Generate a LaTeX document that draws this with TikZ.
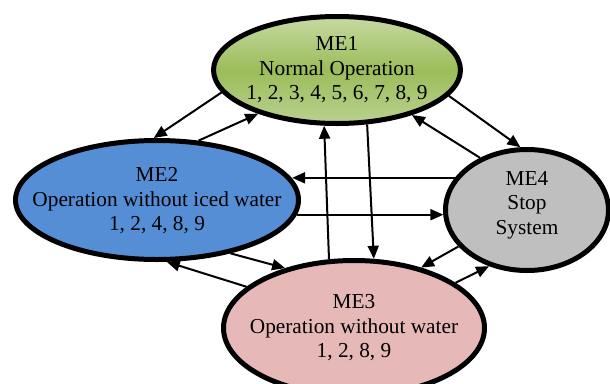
\documentclass[tikz,border=0pt]{standalone}
\usepackage{fontspec}
\setmainfont{Liberation Serif}
\usetikzlibrary{shapes.geometric,arrows.meta}
\definecolor{gtop}{HTML}{C6DAA2}
\definecolor{gmid}{HTML}{9CBC5A}
\definecolor{gbot}{HTML}{B9D190}
\definecolor{blueme}{HTML}{558ED5}
\definecolor{pinkme}{HTML}{E6B8B7}
\definecolor{greyme}{HTML}{BFBFBF}
\tikzset{
  state/.style={ellipse, draw=black, line width=5pt, inner sep=0pt},
  lbl/.style={inner sep=0pt, align=center, font=\fontsize{21.3}{24.5}\selectfont},
  arr/.style={line width=2pt, -{Triangle[length=13pt,width=11pt]}}
}
\begin{document}
\begin{tikzpicture}[x=1pt,y=-1pt]
\useasboundingbox (0,0) rectangle (610,383);
\node[state, minimum width=247pt, minimum height=107pt, top color=gtop, bottom color=gbot, middle color=gmid] (me1) at (337,70) {};
\node[state, fill=blueme, minimum width=283pt, minimum height=119pt] (me2) at (157,200) {};
\node[state, fill=greyme, minimum width=163pt, minimum height=121pt] (me4) at (527,210) {};
\node[state, fill=pinkme, minimum width=261pt, minimum height=135pt] (me3) at (354,328) {};
\node[lbl] (t1) at (me1) {ME1\\Normal Operation\\1, 2, 3, 4, 5, 6, 7, 8, 9};
\node[lbl] (t2) at ([yshift=-1pt]me2) {ME2\\Operation without iced water\\1, 2, 4, 8, 9};
\node[lbl] (t4) at ([yshift=5pt]me4) {ME4\\Stop\\System};
\node[lbl] (t3) at (me3) {ME3\\Operation without water\\1, 2, 8, 9};
% connectors
\draw[arr] (me1.191) -- (me2.93.4);
\draw[arr] (me2.55.3) -- (me1.209.8);
\draw[arr] (me1.347.8) -- (me4.96);
\draw[arr] (me4.132.8) -- (me1.329.6);
\draw[arr] (me4.156) -- (me4.156 -| me2.9.3);
\draw[arr] (me2.-6.6) -- (me2.-6.6 -| me4.184);
\draw[arr] (me3.110.8) -- (me1.257.8);
\draw[arr] (me1.299.7) -- (me3.74.7);
\draw[arr] (me2.324.1) -- (me3.139.8);
\draw[arr] (me3.159) -- (me2.279.5);
\draw[arr] (me4.208.5) -- (me3.42.7);
\draw[arr] (me3.24.1) -- (me4.236.1);
\end{tikzpicture}
\end{document}
